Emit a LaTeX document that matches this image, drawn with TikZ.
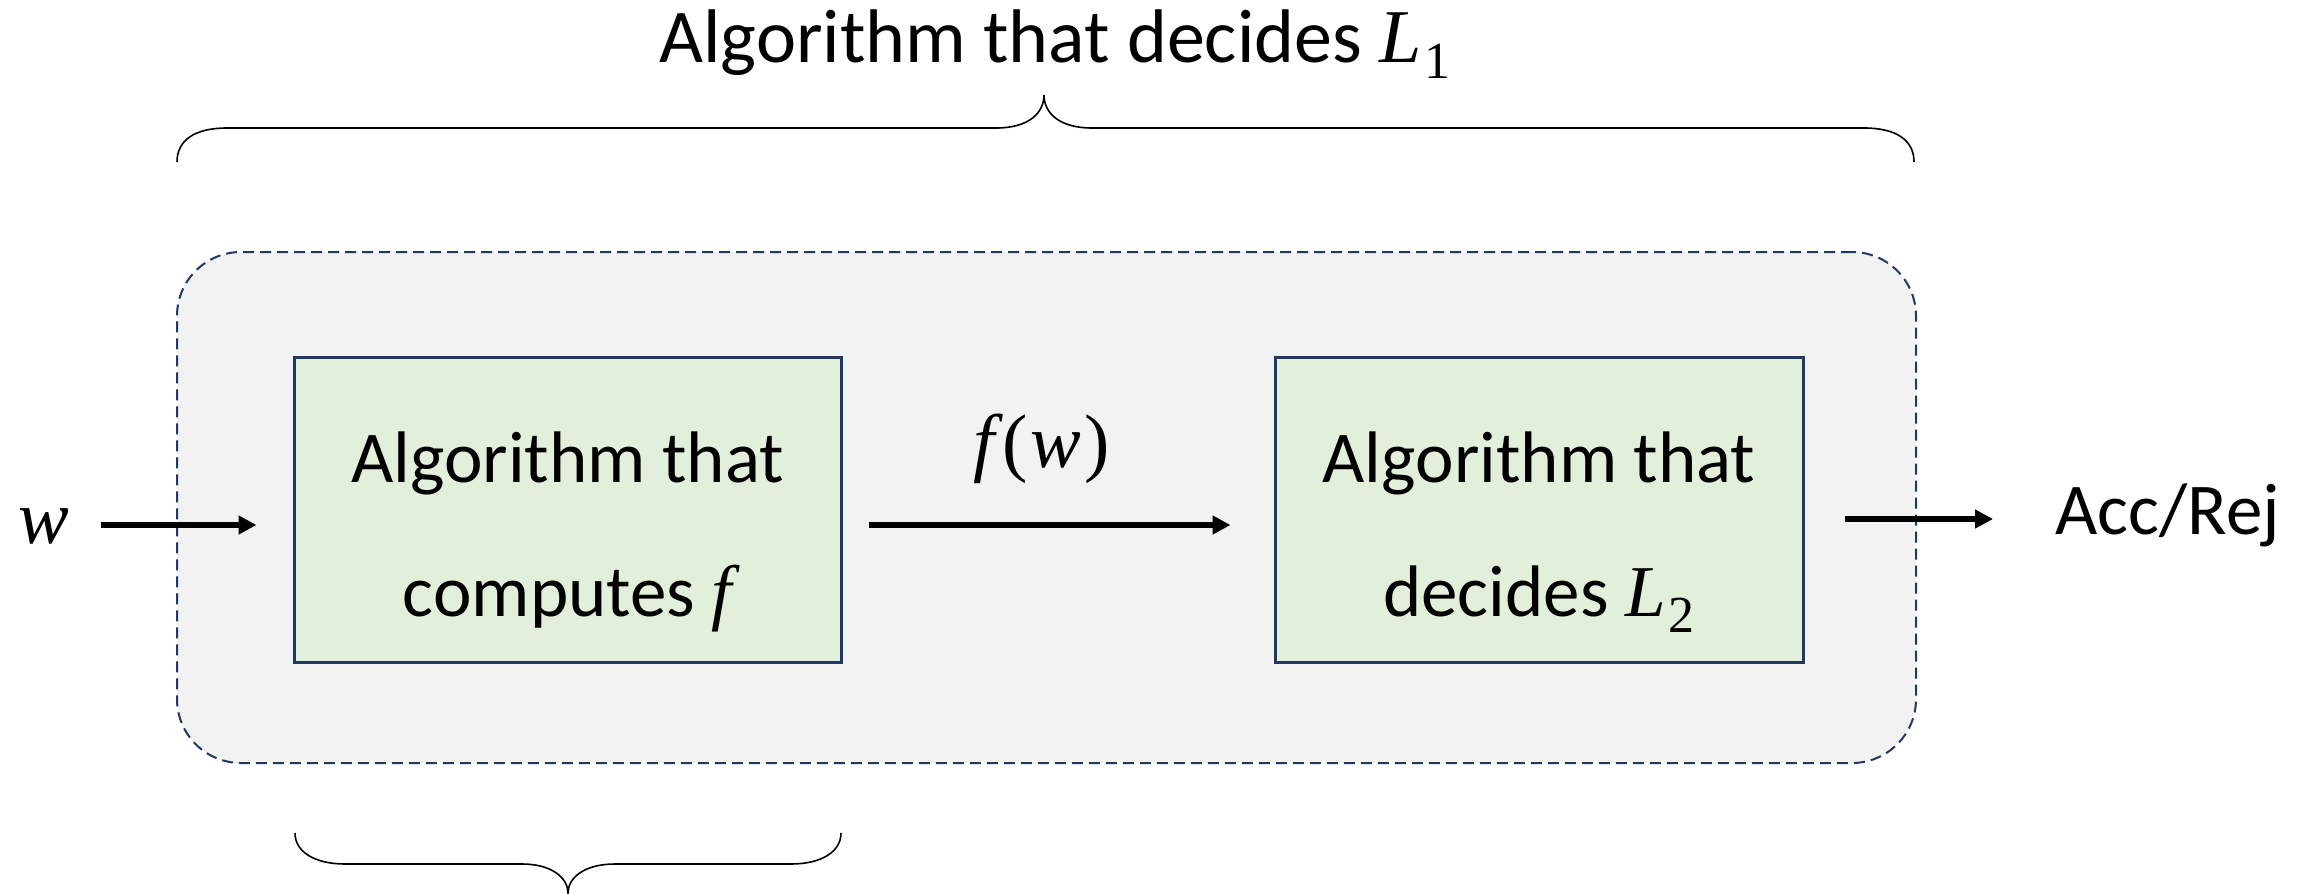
\documentclass[tikz,border=0pt]{standalone}
\usepackage{fontspec}
\setmainfont{Carlito}
\newfontfamily\mvarfont{Liberation Serif}
\usetikzlibrary{arrows.meta}
\definecolor{outerfill}{HTML}{F2F2F2}
\definecolor{outerline}{HTML}{203864}
\definecolor{boxfill}{HTML}{E2EFDA}
\definecolor{boxline}{HTML}{1F3864}
\tikzset{
  container/.style={draw=outerline, line width=1pt, dash pattern=on 5.5pt off 3pt,
    fill=outerfill, rounded corners=32pt, minimum width=869.5pt, minimum height=255.5pt, inner sep=0pt},
  algbox/.style={draw=boxline, line width=1.5pt, fill=boxfill, minimum height=152.5pt,
    align=center, inner sep=0pt, font=\fontsize{36.5}{67}\selectfont},
  lbl/.style={inner sep=0pt, font=\fontsize{36.5}{44}\selectfont},
  toplbl/.style={inner sep=0pt, font=\fontsize{38}{46}\selectfont},
  arr/.style={line width=2.8pt, -{Triangle[length=9pt,width=9pt]}},
  bracestroke/.style={line width=0.8pt, black}
}
\newcommand{\topstrut}{\rule{0pt}{47.5pt}}
\newcommand{\botstrut}{\rule[-7pt]{0pt}{7pt}}
\newcommand{\mv}[1]{{\mvarfont\itshape #1}}
\newcommand{\mup}[1]{{\mvarfont #1}}
\newcommand{\msub}[1]{\kern1.5pt\raisebox{-8pt}{\fontsize{26}{26}\selectfont\mvarfont #1}}
\begin{document}
\begin{tikzpicture}[x=0.5pt, y=-0.5pt]
\useasboundingbox (0,0) rectangle (2308,894);
% container
\node[container] (outer) at (1046.5,507.5) {};
% boxes
\node[algbox, minimum width=273.5pt] (b1) at (567.5,509.5) {\topstrut Algorithm that\\computes \mv{f}\botstrut};
\node[algbox, minimum width=264pt] (b2) at (1539,509.5) {\topstrut Algorithm that\\decides \mv{L}\msub{2}\botstrut};
% labels
\node[toplbl, anchor=base] (top) at (1055,62) {Algorithm that decides \mv{L}\msub{1}};
\node[lbl, anchor=base] (w) at (44,543) {\fontsize{38}{44}\selectfont\mv{w}};
\node[lbl, anchor=base] (fw) at (1042,467) {\fontsize{38}{44}\selectfont\mv{f}\kern4pt\mup{(}\kern1pt\mv{w}\kern2pt\mup{)}};
\node[lbl, anchor=base west] (acc) at (2055,534) {Acc/Rej};
% arrows
\coordinate (w1) at (w.east |- outer.center);
\coordinate (w2) at ([yshift=-8.75pt]w1);
\draw[arr, shorten <=15.5pt, shorten >=18pt] (w.east |- w2) -- (w2 -| b1.west);
\coordinate (m1) at ([yshift=-7.75pt]b1.east);
\draw[arr, shorten <=13pt, shorten >=21.5pt] (m1) -- (m1 -| b2.west);
\coordinate (r1) at ([yshift=-4.75pt]b2.east);
\draw[arr, shorten <=20pt, shorten >=31pt] (r1) -- (r1 -| acc.west);
% top brace
\draw[bracestroke] (177,162) .. controls (177,140) and (195,128) .. (227,128)
  -- (996,128) .. controls (1030,128) and (1044,112) .. (1044,95)
  .. controls (1044,112) and (1058,128) .. (1092,128)
  -- (1864,128) .. controls (1896,128) and (1914,140) .. (1914,162);
% bottom brace
\draw[bracestroke] (295,833) .. controls (295,852) and (315,864) .. (345,864)
  -- (522,864) .. controls (552,864) and (568,878) .. (568,893)
  .. controls (568,878) and (584,864) .. (615,864)
  -- (791,864) .. controls (821,864) and (841,852) .. (841,833);
\end{tikzpicture}
\end{document}
